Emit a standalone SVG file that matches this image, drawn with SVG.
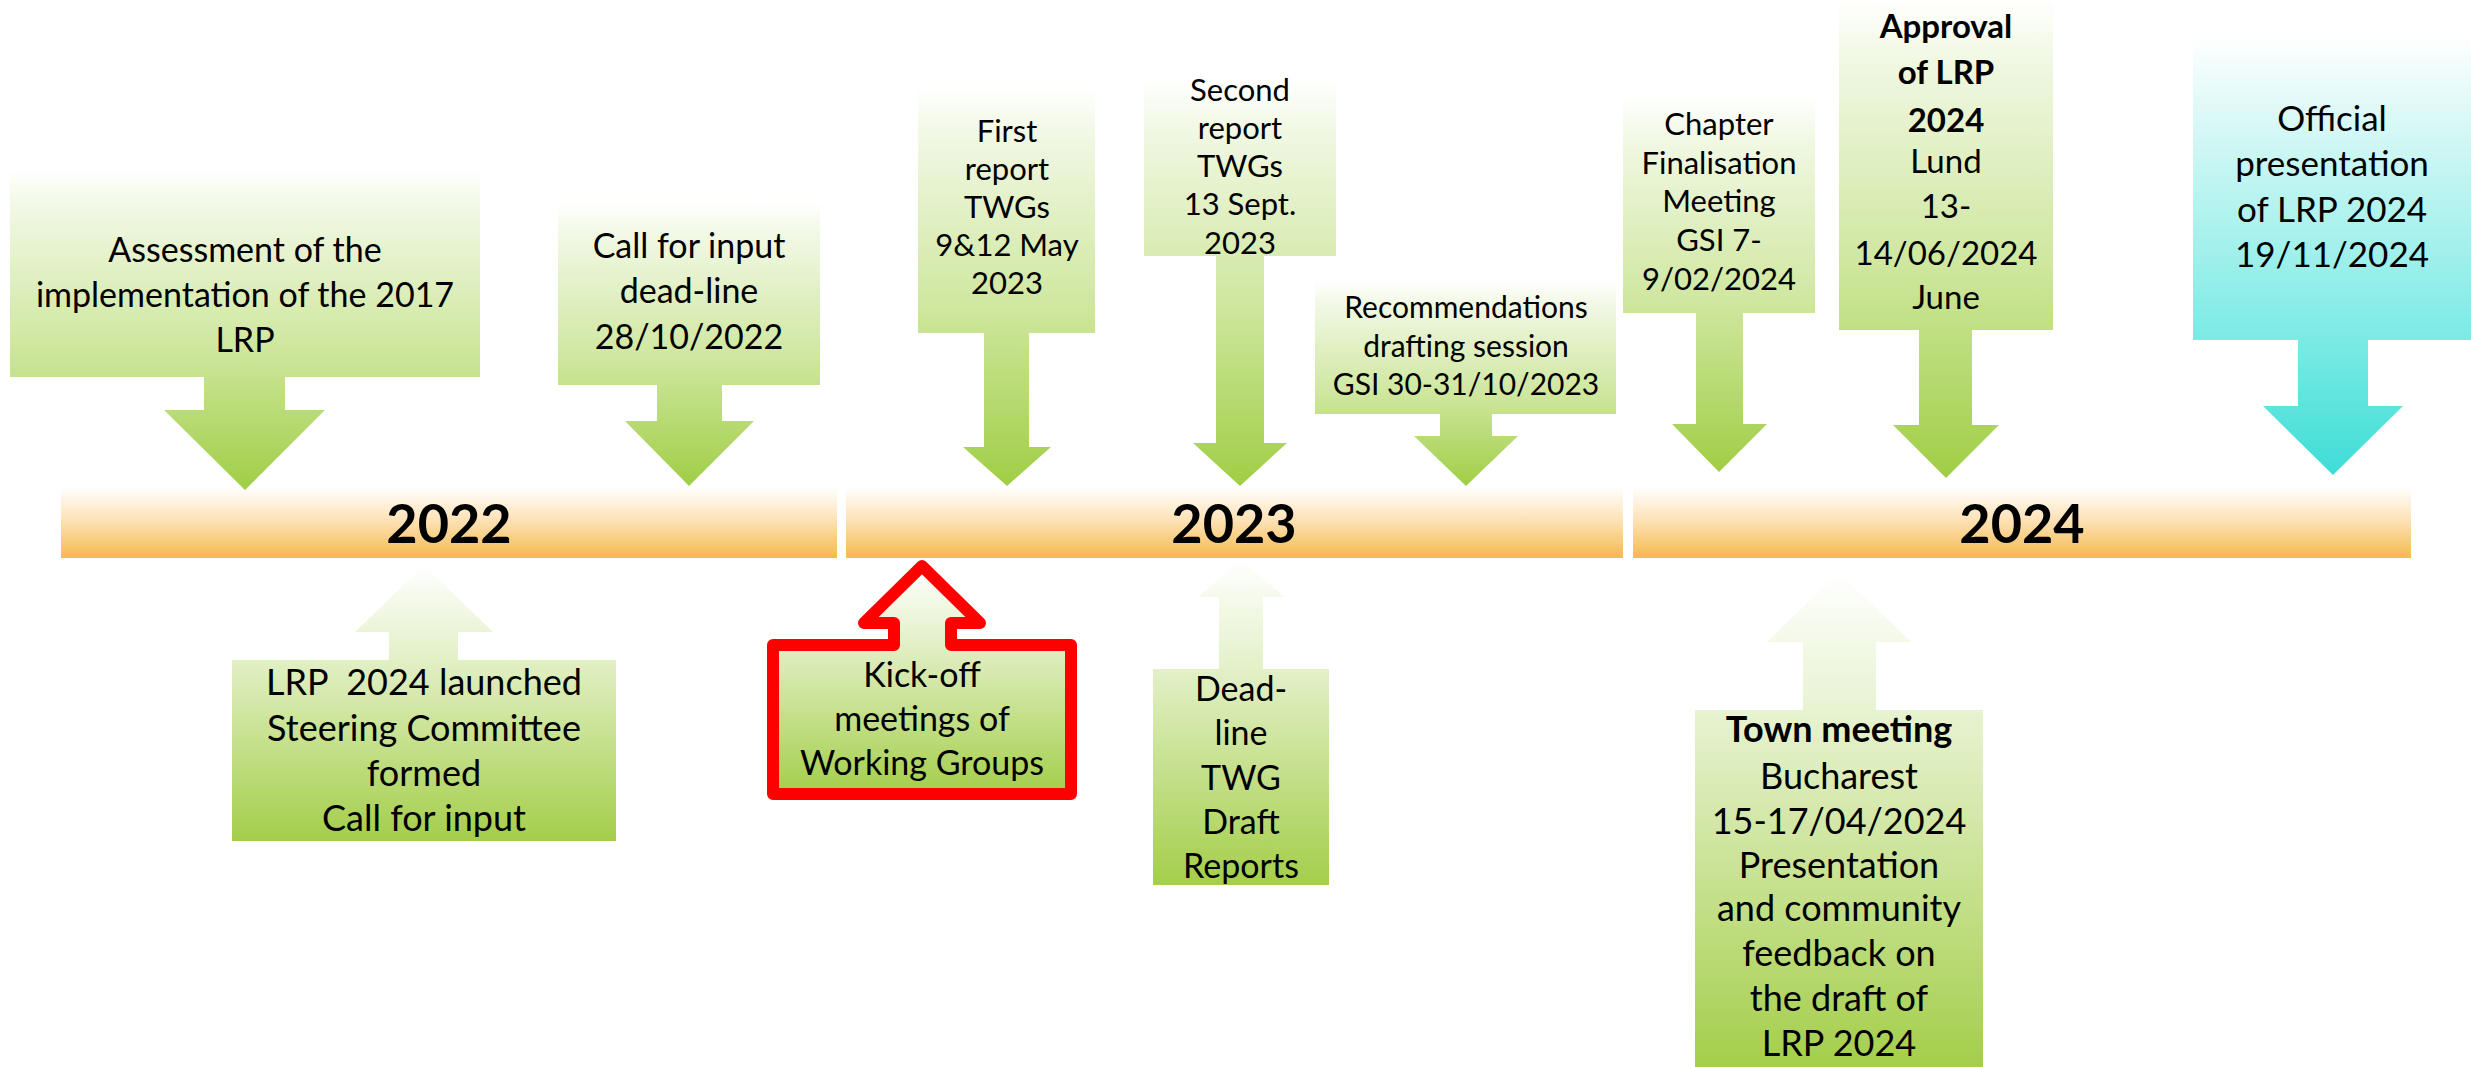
<svg xmlns="http://www.w3.org/2000/svg" width="2471" height="1067" viewBox="0 0 2471 1067">
<style>
.t{font-family:Lato,"Liberation Sans",sans-serif;font-size:34px;fill:#000;text-anchor:middle}
.s{font-size:31px}
.l{font-size:36px}
.b{font-weight:bold}
.yr{font-family:Lato,"Liberation Sans",sans-serif;font-size:54px;font-weight:bold;fill:#000;text-anchor:middle}
</style>
<defs>
<linearGradient id="gDown" x1="0" y1="0" x2="0" y2="1">
<stop offset="0" stop-color="#FFFFFF"/>
<stop offset="0.12" stop-color="#F1F8E4"/>
<stop offset="0.55" stop-color="#CFE79F"/>
<stop offset="1" stop-color="#A0CE45"/>
</linearGradient>
<linearGradient id="gUp" x1="0" y1="0" x2="0" y2="1">
<stop offset="0" stop-color="#FFFFFF"/>
<stop offset="0.3" stop-color="#E6F2CE"/>
<stop offset="1" stop-color="#A4CE4A"/>
</linearGradient>
<linearGradient id="gCyan" x1="0" y1="0" x2="0" y2="1">
<stop offset="0" stop-color="#FFFFFF"/>
<stop offset="0.2" stop-color="#D8F8F6"/>
<stop offset="0.68" stop-color="#7DEBE5"/>
<stop offset="1" stop-color="#3EDDD6"/>
</linearGradient>
<linearGradient id="gBar" x1="0" y1="0" x2="0" y2="1">
<stop offset="0" stop-color="#FFFFFF"/>
<stop offset="0.45" stop-color="#FDE3B9"/>
<stop offset="1" stop-color="#F5B94E"/>
</linearGradient>
</defs>

<g id="bars">
<g id="bar-2022"><rect x="61" y="487" width="776" height="71" fill="url(#gBar)"/><text class="yr" x="449" y="543">2022</text></g>
<g id="bar-2023"><rect x="846" y="487" width="777" height="71" fill="url(#gBar)"/><text class="yr" x="1234" y="543">2023</text></g>
<g id="bar-2024"><rect x="1633" y="487" width="778" height="71" fill="url(#gBar)"/><text class="yr" x="2022" y="543">2024</text></g>
</g>

<g id="assessment">
<path d="M10 170 H480 V377 H285 V410 H325 L245 490 L164 410 H204 V377 H10 Z" fill="url(#gDown)"/>
<text class="t"><tspan x="245" y="262">Assessment of the</tspan><tspan x="245" y="307">implementation of the 2017</tspan><tspan x="245" y="352">LRP</tspan></text>
</g>

<g id="call-for-input">
<path d="M558 202 H820 V385 H722 V421 H754 L689 486 L625 421 H657 V385 H558 Z" fill="url(#gDown)"/>
<text class="t"><tspan x="689" y="258">Call for input</tspan><tspan x="689" y="303">dead-line</tspan><tspan x="689" y="349">28/10/2022</tspan></text>
</g>

<g id="first-report">
<path d="M918 87 H1095 V333 H1029 V447 H1051 L1007 486 L963 447 H984 V333 H918 Z" fill="url(#gDown)"/>
<text class="t s"><tspan x="1007" y="142">First</tspan><tspan x="1007" y="180">report</tspan><tspan x="1007" y="218">TWGs</tspan><tspan x="1007" y="256">9&amp;12 May</tspan><tspan x="1007" y="294">2023</tspan></text>
</g>

<g id="second-report">
<path d="M1144 80 H1336 V256 H1264 V443 H1287 L1240 486 L1193 443 H1216 V256 H1144 Z" fill="url(#gDown)"/>
<text class="t s"><tspan x="1240" y="101">Second</tspan><tspan x="1240" y="139">report</tspan><tspan x="1240" y="177">TWGs</tspan><tspan x="1240" y="215">13 Sept.</tspan><tspan x="1240" y="254">2023</tspan></text>
</g>

<g id="recommendations">
<path d="M1315 280 H1616 V414 H1492 V436 H1518 L1466 486 L1414 436 H1440 V414 H1315 Z" fill="url(#gDown)"/>
<text class="t" style="font-size:30px"><tspan x="1466" y="318">Recommendations</tspan><tspan x="1466" y="357">drafting session</tspan><tspan x="1466" y="395">GSI 30-31/10/2023</tspan></text>
</g>

<g id="chapter">
<path d="M1623 95 H1815 V313 H1743 V424 H1767 L1719 472 L1672 424 H1696 V313 H1623 Z" fill="url(#gDown)"/>
<text class="t s"><tspan x="1719" y="135">Chapter</tspan><tspan x="1719" y="174">Finalisation</tspan><tspan x="1719" y="212">Meeting</tspan><tspan x="1719" y="251">GSI 7-</tspan><tspan x="1719" y="290">9/02/2024</tspan></text>
</g>

<g id="approval">
<path d="M1839 0 H2053 V330 H1972 V425 H1999 L1946 478 L1893 425 H1919 V330 H1839 Z" fill="url(#gDown)"/>
<text class="t" style="font-size:33px"><tspan class="b" x="1946" y="38">Approval</tspan><tspan class="b" x="1946" y="84">of LRP</tspan><tspan class="b" x="1946" y="132">2024</tspan><tspan x="1946" y="173">Lund</tspan><tspan x="1946" y="218">13-</tspan><tspan x="1946" y="265">14/06/2024</tspan><tspan x="1946" y="309">June</tspan></text>
</g>

<g id="official">
<path d="M2193 36 H2471 V340 H2368 V406 H2403 L2333 475 L2263 406 H2298 V340 H2193 Z" fill="url(#gCyan)"/>
<text class="t" style="font-size:35px"><tspan x="2332" y="131">Official</tspan><tspan x="2332" y="176">presentation</tspan><tspan x="2332" y="222">of LRP 2024</tspan><tspan x="2332" y="267">19/11/2024</tspan></text>
</g>

<g id="lrp-launched">
<path d="M232 660 H389 V632 H355 L424 565 L493 632 H458 V660 H616 V841 H232 Z" fill="url(#gUp)"/>
<text class="t l" xml:space="preserve"><tspan x="424" y="695">LRP  2024 launched</tspan><tspan x="424" y="741">Steering Committee</tspan><tspan x="424" y="786">formed</tspan><tspan x="424" y="831">Call for input</tspan></text>
</g>

<g id="kick-off">
<path d="M773 645 H894 V623 H864 L922 566 L980 623 H951 V645 H1071 V794 H773 Z" fill="url(#gUp)" stroke="#FF0000" stroke-width="12" stroke-linejoin="round"/>
<text class="t"><tspan x="922" y="687">Kick-off</tspan><tspan x="922" y="731">meetings of</tspan><tspan x="922" y="775">Working Groups</tspan></text>
</g>

<g id="dead-line">
<path d="M1153 669 H1219 V597 H1198 L1241 560 L1285 597 H1263 V669 H1329 V885 H1153 Z" fill="url(#gUp)"/>
<text class="t"><tspan x="1241" y="701">Dead-</tspan><tspan x="1241" y="745">line</tspan><tspan x="1241" y="790">TWG</tspan><tspan x="1241" y="834">Draft</tspan><tspan x="1241" y="878">Reports</tspan></text>
</g>

<g id="town-meeting">
<path d="M1695 710 H1803 V642 H1767 L1839 572 L1911 642 H1876 V710 H1983 V1067 H1695 Z" fill="url(#gUp)"/>
<text class="t l"><tspan class="b" x="1839" y="742">Town meeting</tspan><tspan x="1839" y="789">Bucharest</tspan><tspan x="1839" y="834">15-17/04/2024</tspan><tspan x="1839" y="878">Presentation</tspan><tspan x="1839" y="921">and community</tspan><tspan x="1839" y="966">feedback on</tspan><tspan x="1839" y="1011">the draft of</tspan><tspan x="1839" y="1056">LRP 2024</tspan></text>
</g>

<g id="connectors"></g>
</svg>
